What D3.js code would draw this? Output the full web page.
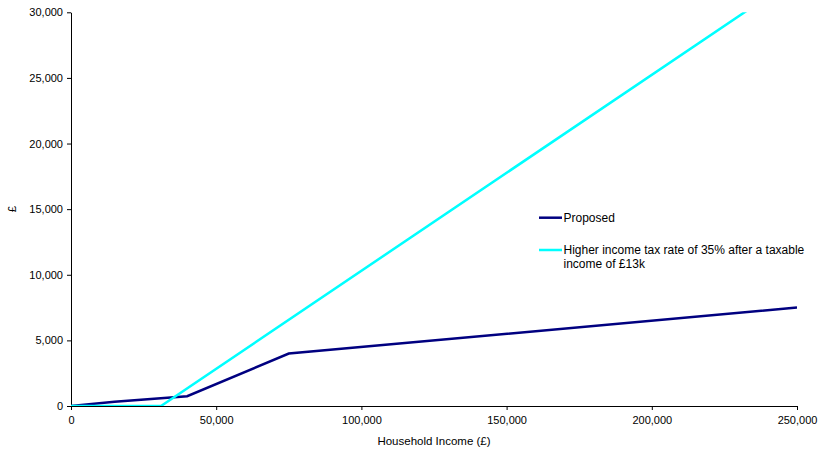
<!DOCTYPE html>
<html>
<head>
<meta charset="utf-8">
<script src="https://cdn.jsdelivr.net/npm/d3@7"></script>
<style>
  body { margin: 0; background: #fff; }
  text { font-family: "Liberation Sans", Arial, sans-serif; }
</style>
</head>
<body>
<svg id="chart" width="819" height="455"></svg>
<script>
const xTicks = [0, 50000, 100000, 150000, 200000, 250000];
const yTicks = [0, 5000, 10000, 15000, 20000, 25000, 30000];

const proposedIncome = [0, 15000, 40000, 75000, 250000];
const proposedValue  = [0, 330, 750, 4000, 7500];

const higherIncome = [0, 31000, 250000];
const higherValue  = [0, 0, 32700];

const seriesNames = ["Proposed", "Higher income tax rate of 35% after a taxable income of £13k"];
const seriesColors = ["#000080", "#00FFFF"];

(function () {
const svg = d3.select("#chart");
const mLeft = 71, mRight = 797, mTop = 12.3, mBottom = 406;

const x = d3.scaleLinear().domain([0, 250000]).range([mLeft, mRight]);
const y = d3.scaleLinear().domain([0, 30000]).range([mBottom, mTop]);

const fmt = d3.format(",");

svg.append("defs").append("clipPath").attr("id", "plotclip")
  .append("rect").attr("x", mLeft).attr("y", mTop).attr("width", mRight - mLeft).attr("height", mBottom - mTop);

const xAxis = svg.append("g").attr("transform", `translate(0,${mBottom})`)
  .call(d3.axisBottom(x).tickValues(xTicks).tickFormat(fmt).tickSize(4).tickSizeOuter(0).tickPadding(4));
const yAxis = svg.append("g").attr("transform", `translate(${mLeft},0)`)
  .call(d3.axisLeft(y).tickValues(yTicks).tickFormat(fmt).tickSize(4).tickSizeOuter(0).tickPadding(4));
[xAxis, yAxis].forEach(g => {
  g.selectAll("path, line").attr("stroke", "#000").attr("stroke-width", 1);
  g.selectAll("text").attr("font-size", 11).attr("fill", "#000")
    .attr("font-family", "'Liberation Sans', Arial, sans-serif");
});
xAxis.selectAll("text").attr("dy", "0.95em");

const line = d3.line().x(d => x(d[0])).y(d => y(d[1]));
const series = [
  d3.zip(proposedIncome, proposedValue),
  d3.zip(higherIncome, higherValue)
];
const gLines = svg.append("g").attr("clip-path", "url(#plotclip)");
[0, 1].forEach(i => {
  gLines.append("path").datum(series[i])
    .attr("fill", "none")
    .attr("stroke", seriesColors[i])
    .attr("stroke-width", 2.5)
    .attr("stroke-linejoin", "miter")
    .attr("d", line);
});

svg.append("text").attr("x", (mLeft + mRight) / 2).attr("y", 445)
  .attr("text-anchor", "middle").attr("font-size", 11.5).text("Household Income (£)");
svg.append("text").attr("transform", `translate(16,${(mTop + mBottom) / 2}) rotate(-90)`)
  .attr("text-anchor", "middle").attr("font-size", 11.5).text("£");

const legY = [217.7, 250];
const leg = svg.append("g");
[0, 1].forEach(i => {
  leg.append("line").attr("x1", 539).attr("x2", 562).attr("y1", legY[i]).attr("y2", legY[i])
    .attr("stroke", seriesColors[i]).attr("stroke-width", 2.5);
});
leg.append("text").attr("x", 563.5).attr("y", legY[0] + 4).attr("font-size", 12).text(seriesNames[0]);
const t2 = leg.append("text").attr("x", 563.5).attr("y", legY[1] + 4).attr("font-size", 12);
t2.append("tspan").attr("x", 563.5).text("Higher income tax rate of 35% after a taxable");
t2.append("tspan").attr("x", 563.5).attr("dy", 14).text("income of £13k");
})();
</script>
</body>
</html>
